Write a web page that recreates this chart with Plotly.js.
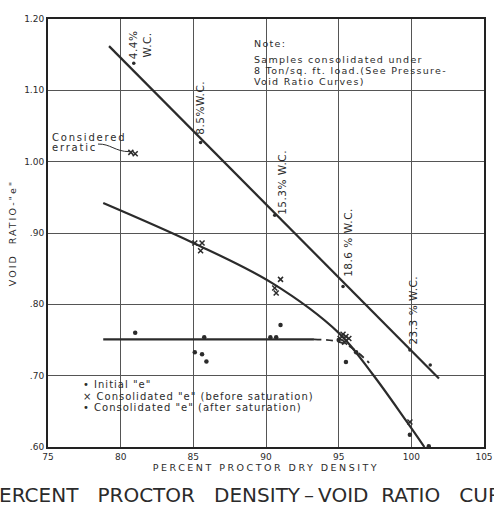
<!DOCTYPE html>
<html><head><meta charset="utf-8">
<script src="https://cdn.plot.ly/plotly-3.0.1.min.js"></script>
<style>
body{margin:0;background:#fff}#c{width:494px;height:510px}
#c g.annotation[data-index="0"] text,#c g.annotation[data-index="1"] text,#c g.annotation[data-index="2"] text,
#c g.annotation[data-index="3"] text,#c g.annotation[data-index="4"] text{letter-spacing:0.5px}
#c g.annotation[data-index="5"] text,#c g.annotation[data-index="6"] text,#c g.annotation[data-index="7"] text,
#c g.annotation[data-index="8"] text{letter-spacing:1.3px}
#c g.annotation[data-index="9"] text,#c g.annotation[data-index="10"] text{letter-spacing:1.8px}
#c g.annotation[data-index="11"] text,#c g.annotation[data-index="12"] text,#c g.annotation[data-index="13"] text{letter-spacing:1px}
#c .g-xtitle text{letter-spacing:2.5px}
#c .g-ytitle text{letter-spacing:2px}
</style>
</head><body><div id="c"></div>
<script>
// Initial void ratio line (water content labels)
var initLineX = [79.2, 101.9];
var initLineY = [1.162, 0.696];
// Consolidated before saturation curve
var beforeCurveX = [78.8, 85.0, 90.4, 95.0, 97.3, 99.6, 100.9];
var beforeCurveY = [0.942, 0.886, 0.830, 0.760, 0.703, 0.638, 0.600];
// Consolidated after saturation line (solid part, dashed part)
var afterLineX = [78.8, 93.3];
var afterLineY = [0.751, 0.751];
var afterDashX = [93.3, 94.6, 95.6, 96.4, 97.1];
var afterDashY = [0.751, 0.749, 0.743, 0.731, 0.718];
// Points
var initialX = [80.9, 85.5, 90.6, 95.3, 99.9, 101.3];
var initialY = [1.138, 1.027, 0.925, 0.825, 0.736, 0.715];
var beforeX = [80.7, 81.0, 85.1, 85.6, 85.5, 90.6, 91.0, 90.7, 95.1, 95.3, 95.5, 95.7, 95.4, 99.9];
var beforeY = [1.013, 1.011, 0.886, 0.886, 0.875, 0.823, 0.835, 0.816, 0.752, 0.758, 0.755, 0.752, 0.747, 0.635];
var afterX = [81.0, 85.1, 85.6, 85.9, 85.75, 90.3, 90.7, 91.0, 95.0, 95.5, 96.2, 99.9, 101.2];
var afterY = [0.760, 0.733, 0.730, 0.720, 0.754, 0.754, 0.754, 0.771, 0.750, 0.719, 0.733, 0.617, 0.601];
var yTickVals = [0.6, 0.7, 0.8, 0.9, 1.0, 1.1, 1.2];
var yTickText = ['.60', '.70', '.80', '.90', '1.00', '1.10', '1.20'];
var xTickVals = [75, 80, 85, 90, 95, 100, 105];
var wcLabels = ['4.4%<br>W.C.', '8.5%W.C.', '15.3% W.C.', '18.6 % W.C.', '23.3 % W.C.'];
var legendLabels = ['•\u00a0Initial "e"', '×\u00a0Consolidated "e" (before saturation)', '•\u00a0Consolidated "e" (after saturation)'];
var noteLines = ['Note:', 'Samples consolidated under', '8 Ton/sq. ft. load.(See Pressure-', 'Void Ratio Curves)'];
var chartTitle = 'PERCENT\u00a0\u00a0\u00a0PROCTOR\u00a0\u00a0\u00a0DENSITY\u2009\u2013\u2009VOID\u00a0\u00a0RATIO\u00a0\u00a0\u00a0CURVES';

var ink = '#2b2b2b';
var F = 'DejaVu Sans';
var traces = [
  {x: initLineX, y: initLineY, mode: 'lines', line: {color: ink, width: 2.2}, hoverinfo: 'skip'},
  {x: beforeCurveX, y: beforeCurveY, mode: 'lines', line: {color: ink, width: 2.2, shape: 'spline', smoothing: 1}, hoverinfo: 'skip'},
  {x: afterLineX, y: afterLineY, mode: 'lines', line: {color: ink, width: 2.2}, hoverinfo: 'skip'},
  {x: afterDashX, y: afterDashY, mode: 'lines', line: {color: ink, width: 1.8, dash: '7px,5px', shape: 'spline'}, hoverinfo: 'skip'},
  {x: initialX, y: initialY, mode: 'markers', marker: {symbol: 'circle', size: 3.5, color: ink}},
  {x: beforeX, y: beforeY, mode: 'markers', marker: {symbol: 'x-thin', size: 5, line: {color: ink, width: 1.5}}},
  {x: afterX, y: afterY, mode: 'markers', marker: {symbol: 'circle', size: 4.5, color: ink}}
];

function t(text, x, y, size, opts) {
  var a = {text: text, x: x, y: y, xref: 'x', yref: 'y', showarrow: false, align: 'left',
    font: {family: F, size: size, color: ink}, xanchor: 'left', yanchor: 'middle'};
  for (var k in opts) a[k] = opts[k];
  return a;
}
var rot = {textangle: -90, xanchor: 'center', align: 'center'};
var ann = [
  t(wcLabels[0], 81.3, 1.164, 10.5, rot),
  t(wcLabels[1], 85.5, 1.075, 10.5, rot),
  t(wcLabels[2], 91.1, 0.971, 10.5, rot),
  t(wcLabels[3], 95.65, 0.886, 10.5, rot),
  t(wcLabels[4], 100.1, 0.792, 10.5, rot),
  t(noteLines[0], 89.05, 1.1663, 9.5, {}),
  t(noteLines[1], 89.05, 1.1439, 9.5, {}),
  t(noteLines[2], 89.05, 1.1285, 9.5, {}),
  t(noteLines[3], 89.05, 1.1130, 9.5, {}),
  t('Considered', 75.15, 1.0338, 10, {}),
  t('erratic', 75.15, 1.0198, 10, {}),
  t(legendLabels[0], 77.25, 0.6881, 10, {}),
  t(legendLabels[1], 77.25, 0.6712, 10, {}),
  t(legendLabels[2], 77.25, 0.6558, 10, {}),
  {text: chartTitle, xref: 'paper', yref: 'paper', align: 'left',
   x: -0.1445, y: -0.112, xanchor: 'left', yanchor: 'middle', showarrow: false,
   font: {family: F, size: 20, color: ink}}
];

var layout = {
  width: 494, height: 510,
  margin: {l: 48, r: 10, t: 19, b: 63},
  paper_bgcolor: '#fff', plot_bgcolor: '#fff',
  showlegend: false,
  font: {family: F, color: ink},
  xaxis: {range: [75, 105], tickvals: xTickVals, showgrid: true, gridcolor: '#555', gridwidth: 1,
    zeroline: false, showline: true, linecolor: '#222', linewidth: 2, mirror: true, ticks: '',
    tickfont: {family: F, size: 9, color: ink},
    title: {text: 'PERCENT PROCTOR DRY DENSITY', font: {family: F, size: 9.5, color: ink}, standoff: 2}},
  yaxis: {range: [0.6, 1.2], tickvals: yTickVals, ticktext: yTickText, showgrid: true, gridcolor: '#555', gridwidth: 1,
    zeroline: false, showline: true, linecolor: '#222', linewidth: 2, mirror: true, ticks: '',
    tickfont: {family: F, size: 9, color: ink},
    title: {text: 'VOID\u00a0\u00a0RATIO-"e"', font: {family: F, size: 9.5, color: ink}, standoff: 6}},
  shapes: [{type: 'path', xref: 'x', yref: 'y',
    path: 'M 78.44 1.0247 C 79.3 1.0252, 79.6 1.0142, 80.6 1.0140', line: {color: ink, width: 1}}],
  annotations: ann
};
Plotly.newPlot('c', traces, layout, {displayModeBar: false, staticPlot: true});
</script></body></html>
